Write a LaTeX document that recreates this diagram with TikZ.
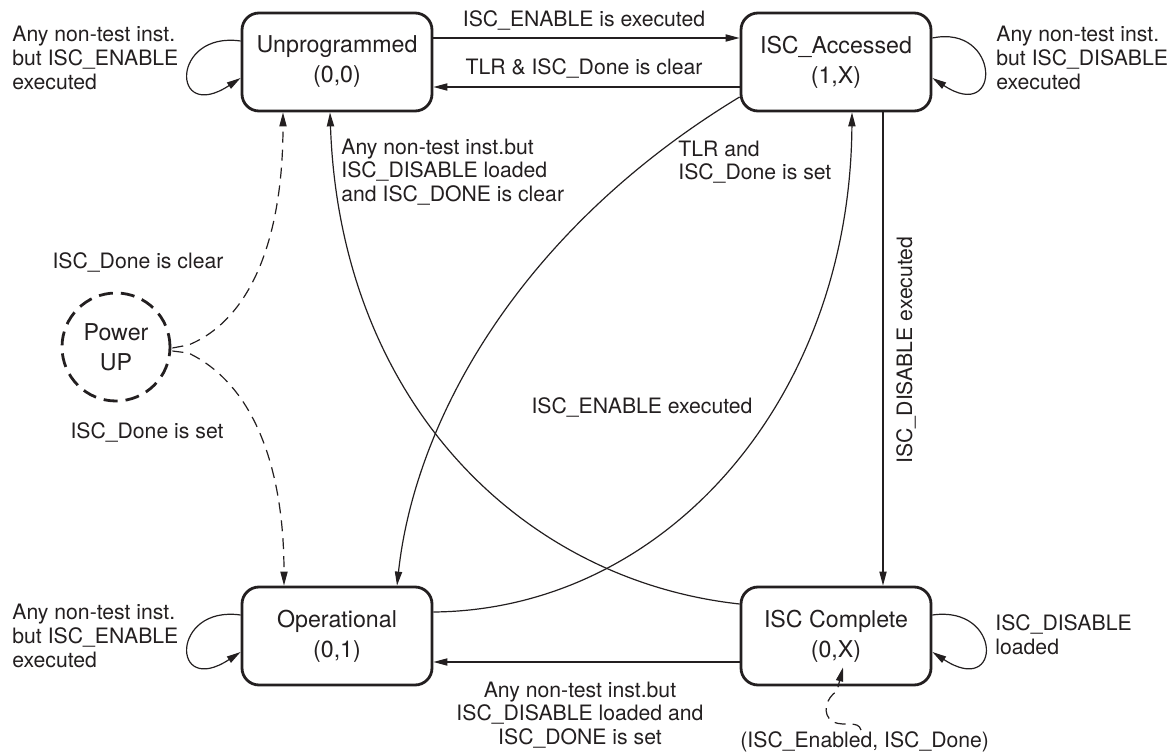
\documentclass[tikz,border=0pt]{standalone}
\usepackage{fontspec}
\setmainfont{TeX Gyre Heros}
\usetikzlibrary{arrows.meta,calc}
\definecolor{ink}{RGB}{35,31,32}
\newcommand\statefont{\fontsize{11.6}{15}\selectfont}
\newcommand\lblfont{\fontsize{10.6}{11.8}\selectfont}
\begin{document}
\begin{tikzpicture}[x=0.5pt,y=-0.5pt,
  state/.style={draw=ink,line width=1.4pt,rounded corners=8.5pt,minimum width=95pt,
    minimum height=49pt,align=center,font=\statefont,text=ink,inner sep=0pt},
  lbl/.style={font=\lblfont,text=ink,inner sep=0pt,align=left},
  clbl/.style={lbl,align=center},
  edge/.style={draw=ink,line width=0.6pt,-{Triangle[length=7pt,width=3.6pt]}},
  dedge/.style={edge,dash pattern=on 5.5pt off 3.5pt},
]
\useasboundingbox (0,0) rectangle (1172,754);

% states
\node[state] (unp) at (337,62)  {Unprogrammed\\(0,0)};
\node[state] (acc) at (836,62)  {ISC\_Accessed\\(1,X)};
\node[state] (op)  at (337,636) {Operational\\(0,1)};
\node[state] (cmp) at (836,636) {ISC Complete\\(0,X)};
\node[draw=ink,circle,line width=1.4pt,dash pattern=on 7pt off 4pt,minimum size=54pt,
  align=center,font=\statefont,text=ink,inner sep=0pt] (pu) at (116,347) {Power\\UP};

% horizontal and vertical transitions
\draw[edge] ($(unp.east)+(0,-24)$) -- ($(acc.west)+(0,-24)$);
\draw[edge] ($(acc.west)+(0,25)$) -- ($(unp.east)+(0,25)$);
\draw[edge] ($(cmp.west)+(0,26)$) -- ($(op.east)+(0,26)$);
\draw[edge] ($(acc.south)+(47,0)$) -- ($(cmp.north)+(47,0)$);

% self loops
\draw[edge] ($(unp.west)+(0,-21)$) .. controls +(-70,-10) and +(-70,46) .. ($(unp.west)+(0,16)$);
\draw[edge] ($(op.west)+(0,-21)$) .. controls +(-70,-10) and +(-70,46) .. ($(op.west)+(0,16)$);
\draw[edge] ($(acc.east)+(0,-24)$) .. controls +(68,-14) and +(70,46) .. ($(acc.east)+(0,16)$);
\draw[edge] ($(cmp.east)+(0,-21)$) .. controls +(70,-10) and +(70,46) .. ($(cmp.east)+(0,16)$);

% diagonal transitions
\draw[edge] ($(cmp.west)+(0,-32)$) .. controls (520,580) and (340,400) .. ($(unp.south)+(-7,0)$);
\draw[edge] ($(acc.west)+(0,35)$) .. controls (520,230) and (415,420) .. ($(op.north)+(60,0)$);
\draw[edge] ($(op.east)+(0,-24)$) .. controls (665,610) and (850,400) .. ($(acc.south)+(16,0)$);

% power-up transitions
\draw[dedge] ($(pu.east)+(1,1)$) -- ++(16,-3) .. controls (250,320) and (283,240) .. ($(unp.south)+(-54,0)$);
\draw[dedge] ($(pu.east)+(1,4)$) -- ++(16,2) .. controls (255,385) and (284,470) .. ($(op.north)+(-53,0)$);

% status pair pointer
\coordinate (sq) at (861,730);
\draw[dedge] (sq) .. controls (858,720) and (846,727) .. (833,722)
  .. controls (821,714) and (826,698) .. (837,691) -- ($(cmp.south)+(7,-19)$);

% labels
\node[lbl,anchor=west] (l1) at (12,58) {Any non-test inst.\\but ISC\_ENABLE\\executed};
\node[lbl,anchor=west] (l2) at (996,58) {Any non-test inst.\\but ISC\_DISABLE\\executed};
\node[lbl,anchor=west] (l3) at (12,636) {Any non-test inst.\\but ISC\_ENABLE\\executed};
\node[lbl,anchor=west] (l4) at (995,635) {ISC\_DISABLE\\loaded};
\node[clbl] (l5) at (584,20) {ISC\_ENABLE is executed};
\node[clbl] (l6) at (584,68) {TLR \& ISC\_Done is clear};
\node[lbl,anchor=west] (l7) at (341,172) {Any non-test inst.but\\ISC\_DISABLE loaded\\and ISC\_DONE is clear};
\node[lbl,anchor=west] (l8) at (678,162) {TLR and\\ISC\_Done is set};
\node[clbl] (l9) at (642,407) {ISC\_ENABLE executed};
\node[clbl,rotate=90] (l10) at (906,350) {ISC\_DISABLE executed};
\node[clbl] (l11) at (580,715) {Any non-test inst.but\\ISC\_DISABLE loaded and\\ISC\_DONE is set};
\node[clbl] (l12) at (138,262) {ISC\_Done is clear};
\node[clbl] (l13) at (147,432) {ISC\_Done is set};
\node[lbl,anchor=west] (l14) at (740,742) {(ISC\_Enabled, ISC\_Done)};
\end{tikzpicture}
\end{document}
